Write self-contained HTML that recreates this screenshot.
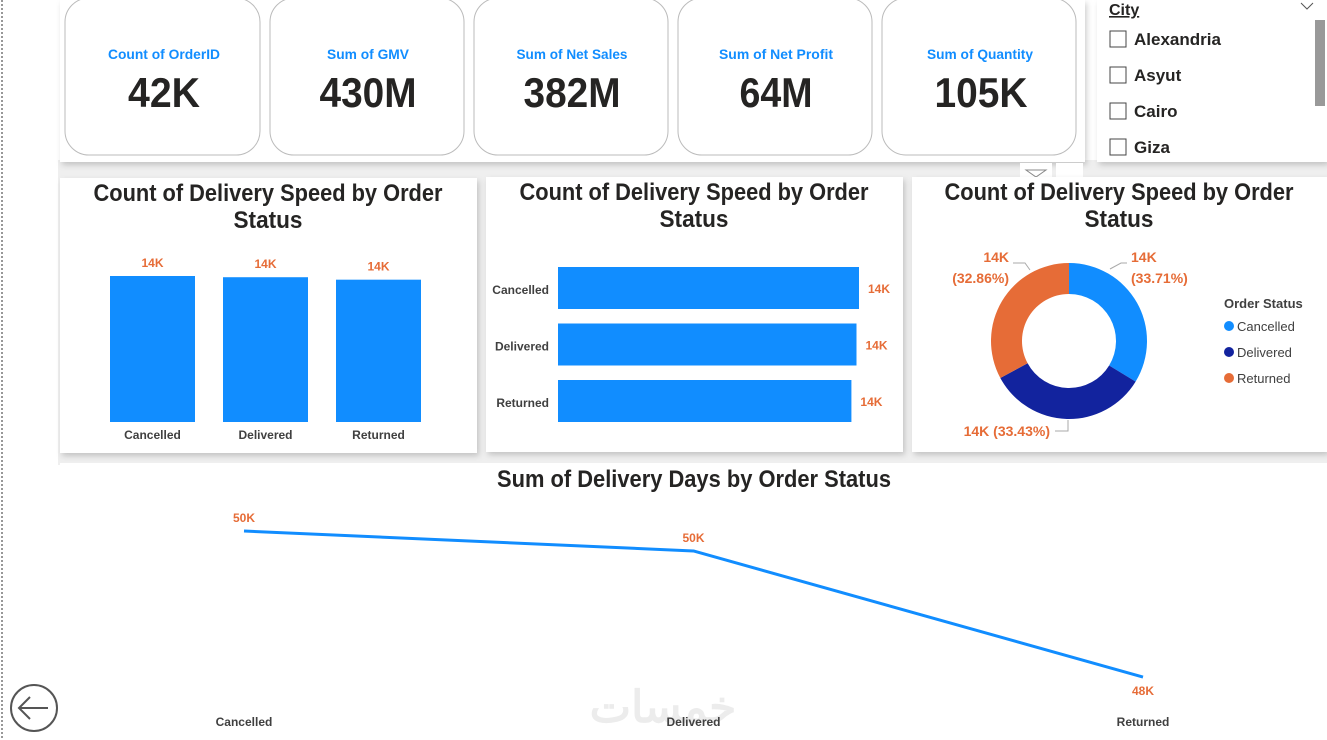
<!DOCTYPE html>
<html><head><meta charset="utf-8"><style>
html,body{margin:0;padding:0;background:#fff;width:1327px;height:740px;overflow:hidden}
svg{display:block}
text{font-family:"Liberation Sans Narrow","Liberation Sans","Noto Sans CJK SC",sans-serif}
</style></head><body>
<svg id="s" width="1327" height="740" xmlns="http://www.w3.org/2000/svg">
<defs><filter id="sh" x="-5%" y="-5%" width="110%" height="115%"><feDropShadow dx="2" dy="3" stdDeviation="3" flood-color="#000" flood-opacity="0.18"/></filter></defs>
<rect x="0" y="0" width="1327" height="740" fill="#fff"/>
<line x1="2" y1="0" x2="2" y2="740" stroke="#777" stroke-width="1.5" stroke-dasharray="2,2"/>
<rect x="58" y="160" width="1269" height="305" fill="#efefef"/>
<rect x="60" y="0" width="1025" height="162" fill="#fff" filter="url(#sh)"/>
<g lengthAdjust="spacingAndGlyphs">
<g><rect x="65" y="-2" width="195" height="157" rx="24" fill="#fff" stroke="#bbb"/><text x="164" y="59" text-anchor="middle" font-size="14" font-weight="bold" fill="#118DFF" textLength="112" lengthAdjust="spacingAndGlyphs">Count of OrderID</text><text x="164" y="107" text-anchor="middle" font-size="42" font-weight="bold" fill="#252423" textLength="72" lengthAdjust="spacingAndGlyphs">42K</text></g>
<g><rect x="270" y="-2" width="194" height="157" rx="24" fill="#fff" stroke="#bbb"/><text x="368" y="59" text-anchor="middle" font-size="14" font-weight="bold" fill="#118DFF" textLength="82" lengthAdjust="spacingAndGlyphs">Sum of GMV</text><text x="368" y="107" text-anchor="middle" font-size="42" font-weight="bold" fill="#252423" textLength="97" lengthAdjust="spacingAndGlyphs">430M</text></g>
<g><rect x="474" y="-2" width="194" height="157" rx="24" fill="#fff" stroke="#bbb"/><text x="572" y="59" text-anchor="middle" font-size="14" font-weight="bold" fill="#118DFF" textLength="111" lengthAdjust="spacingAndGlyphs">Sum of Net Sales</text><text x="572" y="107" text-anchor="middle" font-size="42" font-weight="bold" fill="#252423" textLength="97" lengthAdjust="spacingAndGlyphs">382M</text></g>
<g><rect x="678" y="-2" width="194" height="157" rx="24" fill="#fff" stroke="#bbb"/><text x="776" y="59" text-anchor="middle" font-size="14" font-weight="bold" fill="#118DFF" textLength="114" lengthAdjust="spacingAndGlyphs">Sum of Net Profit</text><text x="776" y="107" text-anchor="middle" font-size="42" font-weight="bold" fill="#252423" textLength="73" lengthAdjust="spacingAndGlyphs">64M</text></g>
<g><rect x="882" y="-2" width="194" height="157" rx="24" fill="#fff" stroke="#bbb"/><text x="980" y="59" text-anchor="middle" font-size="14" font-weight="bold" fill="#118DFF" textLength="106" lengthAdjust="spacingAndGlyphs">Sum of Quantity</text><text x="981" y="107" text-anchor="middle" font-size="42" font-weight="bold" fill="#252423" textLength="93" lengthAdjust="spacingAndGlyphs">105K</text></g>
</g>
<g>
<rect x="1097" y="0" width="230" height="162" fill="#fff" filter="url(#sh)"/>
<text x="1109" y="15" font-size="16" font-weight="bold" fill="#252423" text-decoration="underline">City</text>
<path d="M1301 3 l6 6 l6 -6" fill="none" stroke="#555"/>
<rect x="1315" y="20" width="10" height="86" fill="#999"/>
<g><rect x="1110" y="31" width="16" height="16" fill="#fff" stroke="#444"/><text x="1134" y="45" font-size="17" font-weight="bold" fill="#252423">Alexandria</text></g>
<g><rect x="1110" y="67" width="16" height="16" fill="#fff" stroke="#444"/><text x="1134" y="81" font-size="17" font-weight="bold" fill="#252423">Asyut</text></g>
<g><rect x="1110" y="103" width="16" height="16" fill="#fff" stroke="#444"/><text x="1134" y="117" font-size="17" font-weight="bold" fill="#252423">Cairo</text></g>
<g><rect x="1110" y="139" width="16" height="16" fill="#fff" stroke="#444"/><text x="1134" y="153" font-size="17" font-weight="bold" fill="#252423">Giza</text></g>
</g>
<rect x="1020" y="163" width="32" height="14" fill="#fff"/>
<path d="M1026 170 h20 l-10 7 z" fill="none" stroke="#888"/>
<rect x="1056" y="163" width="27" height="14" fill="#fff"/>
<rect x="60" y="178" width="417" height="275" fill="#fff" filter="url(#sh)"/>
<rect x="486" y="177" width="417" height="275" fill="#fff" filter="url(#sh)"/>
<rect x="912" y="177" width="415" height="275" fill="#fff" filter="url(#sh)"/>
<rect x="60" y="463" width="1267" height="277" fill="#fff"/>
<g font-size="24" font-weight="bold" fill="#252423" text-anchor="middle">
<text x="268" y="201"><tspan x="268" textLength="349" lengthAdjust="spacingAndGlyphs">Count of Delivery Speed by Order</tspan><tspan x="268" dy="27" textLength="69" lengthAdjust="spacingAndGlyphs">Status</tspan></text>
<text x="694" y="200"><tspan x="694" textLength="349" lengthAdjust="spacingAndGlyphs">Count of Delivery Speed by Order</tspan><tspan x="694" dy="27" textLength="69" lengthAdjust="spacingAndGlyphs">Status</tspan></text>
<text x="1119" y="200"><tspan x="1119" textLength="349" lengthAdjust="spacingAndGlyphs">Count of Delivery Speed by Order</tspan><tspan x="1119" dy="27" textLength="69" lengthAdjust="spacingAndGlyphs">Status</tspan></text>
<text x="694" y="487" textLength="394" lengthAdjust="spacingAndGlyphs">Sum of Delivery Days by Order Status</text>
</g>
<text x="663" y="722" text-anchor="middle" font-size="44" font-weight="bold" fill="#ececec" font-family="'DejaVu Sans',sans-serif">خمسات</text>
<g id="col"></g>
<g id="hbar"></g>
<g id="donut"></g>
<g id="line"></g>
<g><circle cx="34" cy="708" r="23" fill="#fff" stroke="#555" stroke-width="2"/><path d="M48 708 H20 M30 697 L19 708 L30 719" fill="none" stroke="#555" stroke-width="2"/></g>
</svg>
<script>
const categories = ["Cancelled","Delivered","Returned"];
const speedCounts = [14158, 14040, 13801];
const speedLabels = ["14K","14K","14K"];
const donutPctLabels = ["33.71%","33.43%","32.86%"];
const deliveryDays = [49906, 49700, 48400];
const deliveryDaysLabels = ["50K","50K","48K"];
const NS="http://www.w3.org/2000/svg";
function mk(parent,tag,attrs,txt){const e=document.createElementNS(NS,tag);for(const k in attrs)e.setAttribute(k,attrs[k]);if(txt!=null)e.textContent=txt;parent.appendChild(e);return e;}
const BLUE="#118DFF",ORANGE="#E66C37",NAVY="#12239E",TXT="#404040";
// column chart
(function(){const g=document.getElementById('col');const base=422,k=146/14158;const xs=i=>110+i*113;
categories.forEach((c,i)=>{const h=speedCounts[i]*k;
const r=mk(g,'rect',{x:xs(i),y:base-h,width:85,height:h,fill:BLUE});


const l=mk(g,'text',{x:xs(i)+42.5,y:base-h-9,'text-anchor':'middle','font-size':12,'font-weight':'bold',fill:ORANGE},speedLabels[i]);


const t=mk(g,'text',{x:xs(i)+42.5,y:439,'text-anchor':'middle','font-size':12,'font-weight':'bold',fill:TXT},c);

});})();
// horizontal bar chart
(function(){const g=document.getElementById('hbar');const x0=558,k=301/14158;const ys=i=>267+i*56.5;
categories.forEach((c,i)=>{const w=speedCounts[i]*k;
const r=mk(g,'rect',{x:x0,y:ys(i),width:w,height:42,fill:BLUE});


const l=mk(g,'text',{x:x0+w+9,y:ys(i)+26,'font-size':12,'font-weight':'bold',fill:ORANGE},speedLabels[i]);


const t=mk(g,'text',{x:549,y:ys(i)+27,'text-anchor':'end','font-size':12,'font-weight':'bold',fill:TXT},c);

});})();
// donut
(function(){const g=document.getElementById('donut');const cx=1069,cy=341,R=78,r=47;const cols=[BLUE,NAVY,ORANGE];
const tot=speedCounts.reduce((a,b)=>a+b,0);let a0=-Math.PI/2;
const P=(rad,a)=>[cx+rad*Math.cos(a),cy+rad*Math.sin(a)];
categories.forEach((c,i)=>{const a1=a0+speedCounts[i]/tot*2*Math.PI;const lg=(a1-a0)>Math.PI?1:0;
const p1=P(R,a0),p2=P(R,a1),p3=P(r,a1),p4=P(r,a0);
const s=mk(g,'path',{d:`M${p1} A${R} ${R} 0 ${lg} 1 ${p2} L${p3} A${r} ${r} 0 ${lg} 0 ${p4} Z`,fill:cols[i]});


a0=a1;});
const lab=[{x:1131,y:262,a:'start',t:[speedLabels[0],'('+donutPctLabels[0]+')'],l:'M1110 269 L1121 263 H1127'},
{x:1050,y:436,a:'end',t:[speedLabels[1]+' ('+donutPctLabels[1]+')'],l:'M1068 420 V431 H1055'},
{x:1009,y:262,a:'end',t:[speedLabels[2],'('+donutPctLabels[2]+')'],l:'M1030 270 L1025 263 H1013'}];
lab.forEach((o,i)=>{const ln=mk(g,'path',{d:o.l,fill:'none',stroke:'#aaa'});


const t=mk(g,'text',{x:o.x,y:o.y,'text-anchor':o.a,'font-size':14,'font-weight':'bold',fill:ORANGE});


o.t.forEach((s,j)=>mk(t,'tspan',{x:o.x,dy:j?21:0},s));});
const lt=mk(g,'text',{x:1224,y:308,'font-size':13,'font-weight':'bold',fill:TXT},'Order Status');


categories.forEach((c,i)=>{const e=mk(g,'g',{});


mk(e,'circle',{cx:1229,cy:326+i*26,r:5,fill:cols[i]});mk(e,'text',{x:1237,y:331+i*26,'font-size':13,fill:TXT},c);});})();
// line chart
(function(){const g=document.getElementById('line');const xs=i=>244+i*449.5;
const lo=48000,hi=50200,yTop=502.5,yBot=715.8;const y=v=>yBot-(v-lo)/(hi-lo)*(yBot-yTop);
const pts=deliveryDays.map((v,i)=>xs(i)+','+y(deliveryDays[i])).join(' ');
const pl=mk(g,'polyline',{points:pts,fill:'none',stroke:BLUE,'stroke-width':3,'stroke-linejoin':'round'});


categories.forEach((c,i)=>{const yy=y(deliveryDays[i]);const last=i===categories.length-1;
const l=mk(g,'text',{x:xs(i),y:last?yy+18:yy-9,'text-anchor':'middle','font-size':12,'font-weight':'bold',fill:ORANGE},deliveryDaysLabels[i]);


const t=mk(g,'text',{x:xs(i),y:726,'text-anchor':'middle','font-size':12,'font-weight':'bold',fill:TXT},c);

});})();
</script>
</body></html>
